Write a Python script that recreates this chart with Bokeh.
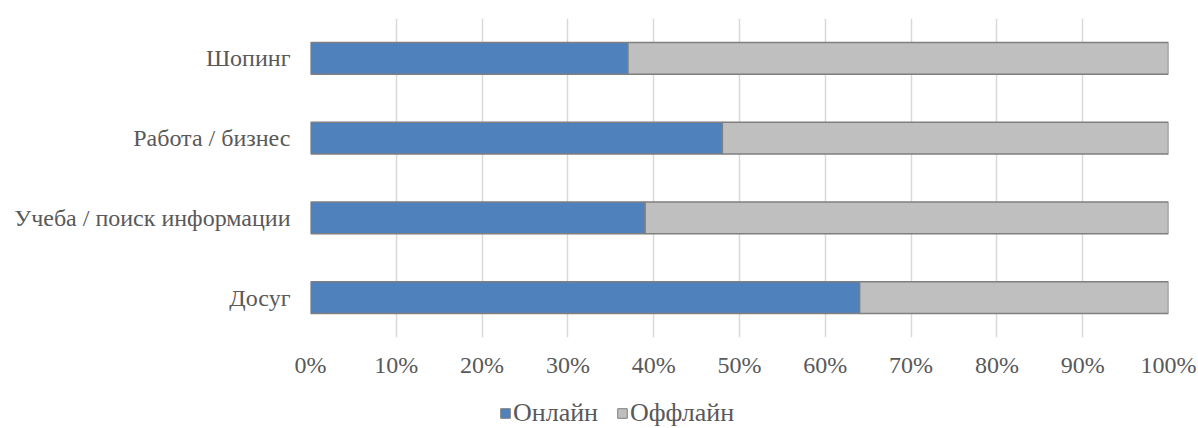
from bokeh.plotting import figure
from bokeh.models import (FactorRange, Range1d, FixedTicker, NumeralTickFormatter, Legend,
                          LegendItem, ColumnDataSource)
from bokeh.layouts import column
from bokeh.embed import file_html
from bokeh.resources import INLINE

categories = ["Досуг", "Учеба / поиск информации", "Работа / бизнес", "Шопинг"]
online = [0.64, 0.39, 0.48, 0.37]
offline = [0.36, 0.61, 0.52, 0.63]
series_names = ["Онлайн", "Оффлайн"]
colors = ["#4f81bd", "#bfbfbf"]
ticks = [i / 10 for i in range(11)]

FONT = "Liberation Serif"
TXT = "#595959"
FS = "24px"
EDGE = "#7f7f7f"

p = figure(width=1198, height=392, y_range=FactorRange(*categories, range_padding=0),
           x_range=Range1d(0, 1), output_backend="svg", toolbar_location=None,
           min_border_left=310, min_border_right=30, min_border_top=18, min_border_bottom=55)
p.outline_line_color = None

data = dict(cat=categories, on=online, off=offline)
r = p.hbar_stack(["on", "off"], y="cat", height=0.4, source=data, color=colors,
                 line_color=EDGE, line_width=1.5)

p.xaxis.ticker = FixedTicker(ticks=ticks)
p.xaxis.formatter = NumeralTickFormatter(format="0%")
for ax in (p.xaxis[0], p.yaxis[0]):
    ax.axis_line_color = None
    ax.major_tick_line_color = None
    ax.minor_tick_line_color = None
    ax.major_tick_out = 0
    ax.major_tick_in = 0
    ax.minor_tick_out = 0
    ax.major_label_text_font = FONT
    ax.major_label_text_font_size = FS
    ax.major_label_text_color = TXT
p.xaxis.major_label_standoff = 14
p.yaxis.major_label_standoff = 20

p.xgrid.grid_line_color = "#d9d9d9"
p.xgrid.grid_line_width = 1.5
p.ygrid.grid_line_color = None

# legend strip
lf = figure(width=1198, height=36, x_range=Range1d(0, 1), y_range=Range1d(0, 1),
            output_backend="svg", toolbar_location=None,
            min_border_left=310, min_border_right=30, min_border_top=0, min_border_bottom=0)
lf.outline_line_color = None
lf.axis.visible = False
lf.grid.visible = False
hidden = ColumnDataSource(dict(y=[-5], right=[-5]))
dummies = [lf.hbar(y="y", right="right", height=0.4, source=hidden, color=colors[i],
                   line_color=EDGE, line_width=1) for i in range(2)]
legend = Legend(items=[LegendItem(label=series_names[i], renderers=[dummies[i]]) for i in range(2)],
                orientation="horizontal", location=(189, 0),
                label_text_font=FONT, label_text_font_size="26px", label_text_color=TXT,
                label_height=26, glyph_width=12, glyph_height=12, spacing=18, label_standoff=2,
                border_line_color=None, background_fill_alpha=0, padding=0, margin=0)
lf.add_layout(legend, "center")

open("out.html", "w").write(file_html(column(p, lf, spacing=0), INLINE))
